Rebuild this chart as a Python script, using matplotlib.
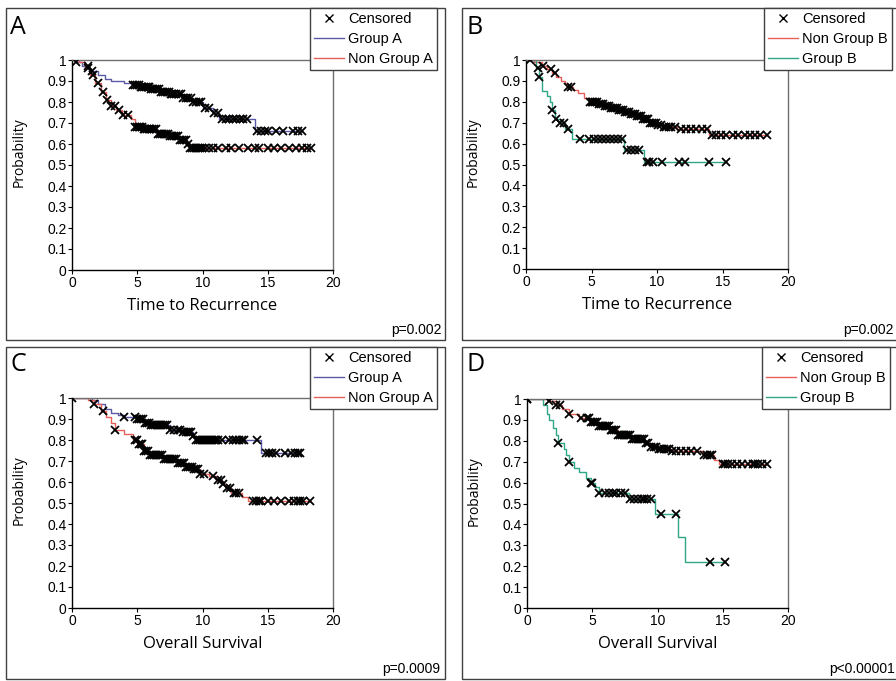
import numpy as np
import matplotlib
matplotlib.use("Agg")
import matplotlib.pyplot as plt
from matplotlib.patches import Rectangle
from matplotlib.lines import Line2D

W, H = 896, 681

# ---- panel A: time to recurrence, group A vs non group A ----
a_grp_t = [0.3, 0.8, 1.3, 2.0, 2.5, 3.0, 4.0, 4.7, 5.2, 6.0, 6.8, 7.5, 8.5, 9.3, 10.0, 10.8, 11.3, 14.0]
a_grp_s = [0.99, 0.97, 0.95, 0.93, 0.91, 0.90, 0.89, 0.88, 0.87, 0.86, 0.85, 0.84, 0.82, 0.80, 0.77,
           0.75, 0.72, 0.66]
a_grp_c = [0.3, 1.2, 1.5, 4.7, 4.85, 5.0, 5.1, 5.25, 5.4, 5.5, 5.65, 5.8, 5.9, 6.05, 6.2, 6.35, 6.5,
           6.65, 6.8, 6.95, 7.1, 7.25, 7.4, 7.55, 7.7, 7.85, 8.0, 8.2, 8.35, 8.5, 8.7, 8.9, 9.1,
           9.3, 9.5, 9.7, 9.9, 10.2, 10.5, 10.9, 11.2, 11.5, 11.8, 12.0, 12.3, 12.6, 12.9, 13.1,
           13.4, 14.2, 14.5, 14.8, 15.0, 15.6, 16.2, 16.9, 17.3, 17.6]
a_non_t = [0.5, 1.0, 1.4, 1.8, 2.2, 2.6, 3.0, 3.4, 3.8, 4.5, 4.8, 5.5, 6.5, 7.5, 8.2, 8.8, 9.0]
a_non_s = [0.99, 0.96, 0.93, 0.89, 0.85, 0.81, 0.78, 0.76, 0.74, 0.72, 0.68, 0.67, 0.65, 0.64, 0.62,
           0.60, 0.58]
a_non_c = [1.2, 1.6, 2.0, 2.4, 2.7, 3.0, 3.3, 3.6, 3.9, 4.3, 4.8, 4.95, 5.1, 5.2, 5.35, 5.5, 5.6,
           5.75, 5.9, 6.0, 6.15, 6.3, 6.45, 6.6, 6.75, 6.9, 7.05, 7.2, 7.35, 7.5, 7.65, 7.8, 7.95,
           8.1, 8.25, 8.4, 8.55, 8.7, 8.9, 9.05, 9.2, 9.35, 9.5, 9.65, 9.8, 9.95, 10.2, 10.5,
           10.8, 11.2, 11.8, 12.2, 12.8, 13.5, 14.0, 14.3, 15.0, 15.5, 16.0, 16.6, 17.2, 17.6,
           18.0, 18.3]

# ---- panel B: time to recurrence, non group B vs group B ----
b_non_t = [0.6, 1.2, 1.6, 2.0, 2.3, 2.7, 3.0, 3.2, 3.6, 4.0, 4.4, 4.8, 5.5, 6.0, 6.5, 7.0, 7.5,
           8.0, 8.4, 8.8, 9.4, 10.0, 10.5, 11.5, 14.0]
b_non_s = [0.99, 0.97, 0.955, 0.94, 0.92, 0.90, 0.885, 0.87, 0.855, 0.84, 0.82, 0.80, 0.79, 0.78,
           0.77, 0.76, 0.75, 0.74, 0.73, 0.72, 0.70, 0.69, 0.68, 0.67, 0.64]
b_non_c = [0.3, 1.3, 1.9, 2.2, 3.2, 3.4, 4.9, 5.0, 5.15, 5.3, 5.45, 5.6, 5.75, 5.9, 6.05, 6.2, 6.35,
           6.5, 6.65, 6.8, 6.95, 7.1, 7.25, 7.4, 7.55, 7.7, 7.85, 8.0, 8.15, 8.3, 8.45, 8.6, 8.75,
           8.9, 9.05, 9.2, 9.35, 9.5, 9.65, 9.8, 9.95, 10.1, 10.3, 10.5, 10.7, 10.9, 11.1, 11.4,
           11.8, 12.2, 12.6, 13.0, 13.4, 13.8, 14.2, 14.5, 14.9, 15.3, 15.8, 16.2, 16.7, 17.1,
           17.5, 17.9, 18.4]
b_grp_t = [0.8, 1.0, 1.2, 1.6, 1.8, 2.0, 2.2, 2.6, 3.0, 3.5, 7.5, 9.0]
b_grp_s = [0.96, 0.92, 0.85, 0.83, 0.80, 0.76, 0.72, 0.70, 0.67, 0.62, 0.57, 0.51]
b_grp_c = [0.9, 1.0, 2.0, 2.3, 2.6, 2.9, 3.2, 4.1, 4.8, 5.2, 5.5, 5.8, 6.1, 6.4, 6.7, 7.0, 7.3,
           7.7, 8.0, 8.3, 8.6, 9.2, 9.4, 9.7, 10.4, 11.7, 12.1, 14.0, 15.3]

# ---- panel C: overall survival, group A vs non group A ----
c_grp_t = [1.5, 2.0, 2.5, 3.0, 3.5, 4.0, 5.0, 5.5, 6.0, 7.5, 8.5, 9.3, 9.5, 14.5]
c_grp_s = [0.99, 0.97, 0.95, 0.93, 0.92, 0.91, 0.90, 0.88, 0.87, 0.85, 0.84, 0.82, 0.80, 0.74]
c_grp_c = [0.0, 4.0, 4.8, 5.0, 5.15, 5.3, 5.45, 5.6, 5.75, 5.9, 6.05, 6.2, 6.35, 6.5, 6.65, 6.8,
           6.95, 7.1, 7.25, 7.5, 7.8, 8.1, 8.3, 8.5, 8.7, 8.9, 9.0, 9.15, 9.3, 9.5, 9.65, 9.8,
           9.95, 10.1, 10.25, 10.4, 10.55, 10.7, 10.85, 11.0, 11.2, 11.5, 12.0, 12.3, 12.6, 12.8,
           13.0, 13.2, 14.2, 14.9, 15.1, 15.3, 15.6, 16.3, 16.8, 17.1, 17.3, 17.5]
c_non_t = [1.2, 1.7, 2.2, 2.6, 3.0, 3.3, 4.0, 4.7, 5.0, 5.5, 6.0, 7.0, 8.0, 8.7, 9.3, 9.8, 10.5,
           11.0, 11.5, 11.8, 12.2, 13.0, 13.5]
c_non_s = [0.99, 0.97, 0.94, 0.91, 0.88, 0.85, 0.83, 0.80, 0.78, 0.75, 0.73, 0.71, 0.69, 0.67,
           0.66, 0.64, 0.63, 0.61, 0.59, 0.57, 0.55, 0.53, 0.51]
c_non_c = [1.7, 2.4, 3.3, 4.8, 4.95, 5.1, 5.25, 5.4, 5.55, 5.7, 5.85, 6.0, 6.15, 6.3, 6.45, 6.6,
           6.75, 6.9, 7.05, 7.2, 7.35, 7.5, 7.65, 7.8, 7.95, 8.1, 8.3, 8.45, 8.6, 8.75, 8.9, 9.05,
           9.2, 9.35, 9.5, 9.65, 9.8, 10.1, 10.8, 11.2, 11.4, 11.6, 11.9, 12.1, 12.4, 12.6, 12.8,
           13.9, 14.1, 14.3, 14.5, 15.0, 15.5, 16.0, 16.6, 17.0, 17.3, 17.5, 17.7, 18.2]

# ---- panel D: overall survival, non group B vs group B ----
d_non_t = [1.7, 2.2, 2.7, 3.2, 4.0, 4.8, 5.5, 6.3, 7.0, 8.0, 9.0, 9.5, 10.0, 11.0, 13.5, 14.3, 14.7]
d_non_s = [0.99, 0.97, 0.95, 0.93, 0.91, 0.89, 0.87, 0.85, 0.83, 0.81, 0.79, 0.77, 0.76, 0.75,
           0.73, 0.71, 0.69]
d_non_c = [0.0, 1.7, 2.2, 2.5, 3.2, 4.1, 4.6, 4.75, 4.9, 5.05, 5.2, 5.35, 5.5, 5.65, 5.8, 5.95, 6.1,
           6.25, 6.4, 6.55, 6.7, 6.85, 7.0, 7.15, 7.3, 7.45, 7.6, 7.75, 7.9, 8.05, 8.2, 8.35, 8.5,
           8.65, 8.8, 8.95, 9.1, 9.3, 9.5, 9.7, 9.9, 10.1, 10.3, 10.5, 10.7, 10.9, 11.1, 11.4,
           11.8, 12.2, 12.6, 13.0, 13.6, 13.8, 14.0, 14.2, 15.0, 15.2, 15.4, 15.7, 16.1, 16.5,
           16.9, 17.3, 17.5, 17.7, 18.0, 18.4]
d_grp_t = [1.2, 1.5, 1.7, 2.0, 2.2, 2.4, 2.8, 3.0, 3.2, 3.6, 4.0, 4.5, 4.9, 5.2, 5.5, 5.8, 7.8,
           9.8, 11.6, 12.1]
d_grp_s = [0.97, 0.93, 0.90, 0.86, 0.83, 0.79, 0.76, 0.73, 0.70, 0.67, 0.65, 0.62, 0.60, 0.58,
           0.55, 0.55, 0.52, 0.45, 0.34, 0.22]
d_grp_c = [0.0, 2.4, 3.2, 4.9, 5.0, 5.5, 6.0, 6.3, 6.6, 6.8, 7.2, 7.5, 7.9, 8.2, 8.5, 8.8, 9.0, 9.2,
           9.5, 10.3, 11.4, 14.0, 15.2]

x_ticks = [0, 5, 10, 15, 20]
y_ticks = [0, 0.1, 0.2, 0.3, 0.4, 0.5, 0.6, 0.7, 0.8, 0.9, 1.0]
y_tick_labels = ["0", "0.1", "0.2", "0.3", "0.4", "0.5", "0.6", "0.7", "0.8", "0.9", "1"]

BLUE = "#5a5aa6"
RED = "#e8605a"
GREEN = "#30a888"


def px_axes(fig, left, top, right, bottom):
    return fig.add_axes([left / W, 1 - bottom / H, (right - left) / W, (bottom - top) / H])


def step_value(times, surv, t):
    i = np.searchsorted(times, t, side="right")
    return 1.0 if i == 0 else surv[i - 1]


def km(ax, times, surv, cens, color):
    end = max(max(cens), max(times))
    xs = [0] + list(times) + [end]
    ys = [1.0] + list(surv) + [surv[-1]]
    ax.plot(xs, ys, drawstyle="steps-post", color=color, lw=1.0, zorder=2)
    cy = [step_value(times, surv, t) for t in cens]
    ax.plot(cens, cy, linestyle="None", marker="x", color="black", ms=6, mew=1.3, zorder=3)


def style(ax, xlabel):
    ax.set_xlim(0, 20)
    ax.set_ylim(0, 1)
    ax.set_xticks(x_ticks)
    ax.set_yticks(y_ticks)
    ax.set_yticklabels(y_tick_labels)
    ax.tick_params(direction="out", length=3, width=0.8, labelsize=10, pad=1)
    for lab in ax.get_xticklabels() + ax.get_yticklabels():
        lab.set_fontfamily("Liberation Sans")
    for s in ["top", "right"]:
        ax.spines[s].set_color("#707070")
    for s in ax.spines.values():
        s.set_linewidth(1.0)
    ax.set_xlabel(xlabel, fontsize=12, fontfamily="Open Sans", labelpad=6)
    ax.set_ylabel("Probability", fontsize=10, fontfamily="Open Sans")
    ax.yaxis.set_label_coords(-0.175, 0.56)


def frame(fig, left, top, right, bottom):
    fig.patches.append(Rectangle((left / W, 1 - bottom / H), (right - left) / W, (bottom - top) / H,
                                 transform=fig.transFigure, fill=False, edgecolor="#404040",
                                 lw=1.0, zorder=0))


def legend(fig, left, top, labels, colors):
    handles = [Line2D([], [], linestyle="None", marker="x", color="black", ms=6, mew=1.0)]
    for c in colors:
        handles.append(Line2D([], [], color=c, lw=1.0))
    lg = fig.legend(handles, labels, loc="upper left", bbox_to_anchor=(left / W, 1 - top / H),
                    frameon=True, fancybox=False, edgecolor="#404040", framealpha=1,
                    prop={"family": "Liberation Sans", "size": 10.5}, handlelength=2.0,
                    handletextpad=0.3, labelspacing=0.4, borderpad=0.3, borderaxespad=0)
    lg.get_frame().set_linewidth(1.0)


fig = plt.figure(figsize=(W / 100, H / 100), dpi=100)

frame(fig, 6, 8, 445, 340)
frame(fig, 462, 8, 910, 340)
frame(fig, 6, 347, 445, 679)
frame(fig, 462, 347, 910, 679)

axA = px_axes(fig, 72, 60, 333, 270)
km(axA, a_grp_t, a_grp_s, a_grp_c, BLUE)
km(axA, a_non_t, a_non_s, a_non_c, RED)
style(axA, "Time to Recurrence")

axB = px_axes(fig, 526, 60, 788, 269)
km(axB, b_non_t, b_non_s, b_non_c, RED)
km(axB, b_grp_t, b_grp_s, b_grp_c, GREEN)
style(axB, "Time to Recurrence")

axC = px_axes(fig, 72, 398, 333, 608)
km(axC, c_grp_t, c_grp_s, c_grp_c, BLUE)
km(axC, c_non_t, c_non_s, c_non_c, RED)
style(axC, "Overall Survival")

axD = px_axes(fig, 527, 399, 788, 608)
km(axD, d_non_t, d_non_s, d_non_c, RED)
km(axD, d_grp_t, d_grp_s, d_grp_c, GREEN)
style(axD, "Overall Survival")

legend(fig, 310, 8, ["Censored", "Group A", "Non Group A"], [BLUE, RED])
legend(fig, 764, 8, ["Censored", "Non Group B", "Group B"], [RED, GREEN])
legend(fig, 310, 347, ["Censored", "Group A", "Non Group A"], [BLUE, RED])
legend(fig, 762, 347, ["Censored", "Non Group B", "Group B"], [RED, GREEN])

for x, y, s in [(10, 27, "A"), (466, 27, "B"), (10, 365, "C"), (466, 365, "D")]:
    fig.text(x / W, 1 - y / H, s, fontsize=18, fontfamily="Open Sans", va="center", ha="left")

for x, y, s, ha in [(442, 330, "p=0.002", "right"), (843, 330, "p=0.002", "left"),
                    (440, 669, "p=0.0009", "right"), (829, 669, "p<0.00001", "left")]:
    fig.text(x / W, 1 - y / H, s, fontsize=10, fontfamily="Liberation Sans", va="center", ha=ha)

fig.savefig("out.png", dpi=100)
